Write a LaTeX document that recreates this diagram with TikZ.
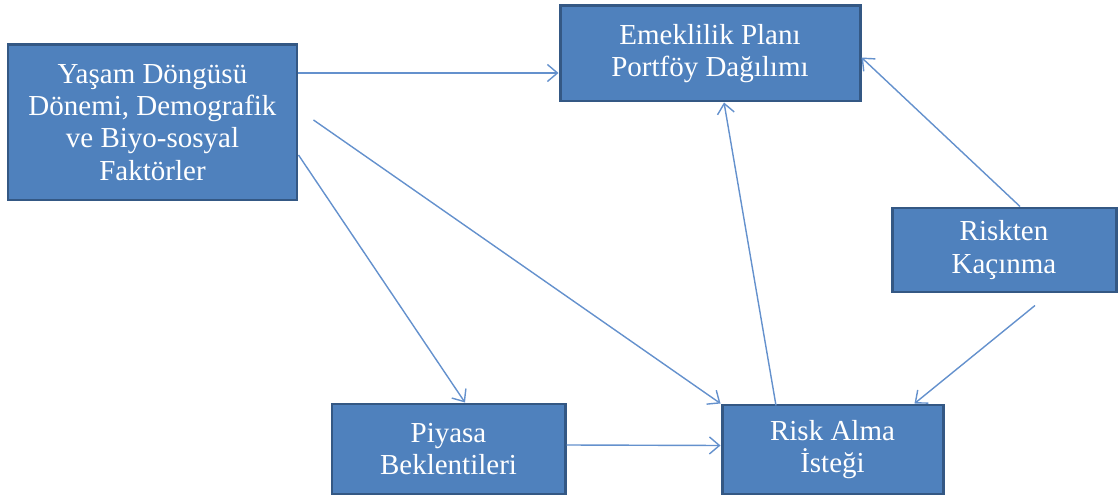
\documentclass[tikz,border=0pt]{standalone}
\usepackage{fontspec}
\setmainfont{Liberation Serif}
\usetikzlibrary{arrows.meta}

\definecolor{boxfill}{RGB}{79,129,189}
\definecolor{boxline}{RGB}{52,88,132}
\definecolor{arrowline}{RGB}{100,145,205}

\begin{document}
\begin{tikzpicture}[
        factor/.style={draw=boxline, line width=1.7pt, fill=boxfill, text=white,
                       align=center, inner sep=2pt,
                       font=\fontsize{16.5}{18.3}\selectfont},
        link/.style={arrowline, line width=0.8pt,
                     -{Straight Barb[length=2mm, width=3.4mm]}}
    ]
        \useasboundingbox (0, 0) rectangle (22.38, 9.96);

        \node [factor, minimum width=5.78cm, minimum height=3.1cm] (yasam) at (3.05, 7.51)
            {Yaşam Döngüsü\\Dönemi, Demografik\\ve Biyo-sosyal\\Faktörler};
        \node [factor, minimum width=6.0cm, minimum height=1.9cm] (portfoy) at (14.2, 8.89)
            {Emeklilik Planı\\Portföy Dağılımı};
        \node [factor, minimum width=4.48cm, minimum height=1.68cm] (kacinma) at (20.08, 4.96)
            {Riskten\\Kaçınma};
        \node [factor, minimum width=4.66cm, minimum height=1.8cm] (piyasa) at (8.97, 0.98)
            {Piyasa\\Beklentileri};
        \node [factor, minimum width=4.42cm, minimum height=1.78cm] (istek) at (16.65, 0.97)
            {Risk Alma\\İsteği};

        % from the life cycle box
        \draw [link] ([yshift=0.99cm]yasam.east) -- ([yshift=-0.39cm]portfoy.west);
        \draw [link] ([xshift=0.3cm, yshift=0.05cm]yasam.east) -- (istek.north west);
        \draw [link] ([yshift=-0.65cm]yasam.east) -- ([xshift=0.33cm]piyasa.north);

        \draw [link] ([yshift=0.08cm]piyasa.east) -- ([yshift=0.08cm]istek.west);
        \draw [link] ([xshift=-1.13cm, yshift=-0.04cm]istek.north) -- ([xshift=0.28cm]portfoy.south);

        % risk aversion
        \draw [link] ([xshift=0.32cm]kacinma.north) -- ([yshift=-0.08cm]portfoy.east);
        \draw [link] ([xshift=0.62cm, yshift=-0.24cm]kacinma.south) -- ([xshift=-0.6cm]istek.north east);
    \end{tikzpicture}
\end{document}
